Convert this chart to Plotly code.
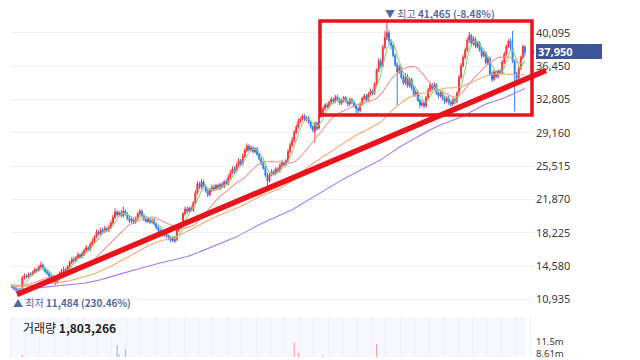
import plotly.graph_objects as go
import pandas as pd

# ---------------- data (prices in hundreds of KRW) ----------------
pre_closes = [118,117,119,120,118,116,115,117,118,116,
              114,113,115,116,117,119,118,116,115,114,
              115,117,118,120,121,119,118,117,116,118,
              119,121,122,120,118,117,116,115,116,117,
              118,117,115,114,113,114,116,117,118,119,
              120,122,123,121,120,119,118,117,118,120,
              121,123,124,122,121,120,119,120,122,123,
              124,125,123,122,121,120,119,118,119,120,
              121,122,124,125,126,124,123,122,121,120,
              121,122,123,124,125,127,128,126,125,124,
              125,126,127,128,127,126,125,124,123,124,
              125,126,127,126,125,124,125,126,125,124]

opens = [124,123,121,119,118, 122,133,135,134,137,
         136,139,142,141,145, 147,143,140,138,135,
         132,129,128,133,138, 140,142,141,145,150,
         153,152,155,158,156, 159,163,166,164,170,
         173,178,183,181,185, 184,187,185,188,193,
         199,205,202,204,201, 206,203,198,195,197,
         194,198,203,206,201, 197,195,197,194,196,
         192,188,185,183,180, 182,179,176,174,177,
         175,185,189,192,203, 208,206,209,207,215,
         226,236,232,238,233, 228,224,229,232,230,
         234,231,235,233,238, 236,243,248,252,250,
         256,261,258,266,272, 277,273,275,271,274,
         268,263,258,253,245, 239,246,249,247,252,
         250,256,259,257,261, 271,278,283,292,298,
         304,307,310,306,308, 303,298,293,302,297,
         310,313,318,322,320, 325,328,326,331,328,
         324,327,330,326,323, 328,325,321,318,316,
         323,329,332,327,334, 337,335,345,360,370,
         365,385,396,401,392, 387,376,366,358,363,
         352,346,353,343,350, 341,333,336,327,322,
         324,321,330,338,344, 340,344,335,332,336,
         329,326,330,325,323, 328,326,335,352,365,
         374,382,393,398,389, 394,386,390,382,376,
         379,368,373,356,350, 358,353,359,357,369,
         378,386,392,384,370, 356,352,362,374,386]

closes = [123,121,119,118,120, 133,135,134,137,136,
          139,142,141,145,147, 143,140,138,135,132,
          129,127,133,138,140, 142,141,145,150,153,
          152,155,158,156,159, 163,166,164,170,173,
          178,183,181,185,184, 187,185,188,193,199,
          205,202,204,201,206, 203,198,195,197,194,
          198,203,206,201,197, 195,197,194,196,192,
          188,185,183,180,182, 179,176,174,177,173,
          185,189,192,203,208, 206,209,207,215,226,
          236,232,238,233,228, 224,229,232,230,234,
          231,235,233,238,236, 243,248,252,250,256,
          261,258,266,272,277, 273,275,271,274,268,
          263,258,253,245,239, 246,249,247,252,250,
          256,259,257,261,271, 278,283,292,298,304,
          307,310,306,308,303, 298,295,302,296,310,
          313,318,322,320,325, 328,326,331,328,324,
          327,330,326,323,328, 325,321,318,316,323,
          329,332,327,334,337, 335,345,360,370,365,
          385,396,401,392,387, 376,366,358,363,352,
          346,353,343,350,341, 333,336,327,322,324,
          321,330,338,344,340, 344,335,332,336,329,
          326,330,325,323,328, 326,335,352,365,374,
          382,393,398,389,394, 386,390,382,376,379,
          368,373,356,350,358, 353,359,357,369,378,
          386,392,384,370,356, 352,362,374,386,379.5]

highs = [126,124,123,121,122, 135,138,137,139,139,
         141,144,144,147,151, 149,145,142,140,137,
         134,131,135,140,143, 145,144,147,152,156,
         156,157,161,160,162, 165,169,168,172,176,
         180,186,185,188,188, 190,189,191,196,202,
         209,207,206,207,211, 208,205,201,199,199,
         200,205,208,208,203, 199,199,199,198,198,
         194,190,187,185,184, 184,181,178,179,179,
         187,191,194,205,211, 211,211,212,217,229,
         239,238,241,240,235, 230,231,235,235,236,
         236,237,238,240,241, 246,251,255,255,259,
         264,263,269,275,280, 279,278,277,276,276,
         270,265,261,255,248, 248,252,251,254,254,
         258,262,261,263,274, 281,287,295,301,307,
         309,312,312,310,310, 305,300,304,304,312,
         315,321,324,324,327, 331,330,333,333,330,
         329,332,332,328,330, 330,327,323,320,325,
         331,334,334,336,340, 339,347,362,373,373,
         388,403,414.65,404,394, 389,378,369,366,365,
         355,357,356,352,352, 343,339,338,329,327,
         326,332,341,347,346, 347,346,337,339,338,
         331,332,332,327,330, 330,337,355,368,377,
         385,396,402,400,397, 396,392,392,385,381,
         381,375,375,359,360, 360,361,361,371,380,
         388,394,395,403,372, 358,364,376,388,387]

lows = [122,120,117,114.84,117, 121,131,132,133,134,
        135,137,139,140,143, 141,138,136,133,130,
        127,125,126,131,136, 138,139,139,143,148,
        150,150,153,154,154, 157,161,162,162,168,
        171,176,179,179,181, 182,183,183,186,191,
        197,200,200,199,199, 201,196,193,193,192,
        192,196,201,199,195, 193,193,192,192,190,
        186,183,181,178,178, 177,174,172,172,171,
        173,183,187,190,201, 203,204,205,205,213,
        224,230,230,231,226, 221,222,227,228,228,
        229,229,231,231,234, 234,241,246,247,248,
        254,255,256,264,270, 271,271,269,269,266,
        261,256,251,243,233, 237,244,245,245,248,
        248,254,255,255,259, 269,276,281,290,296,
        302,305,304,304,301, 296,292,281,294,295,
        308,311,316,318,318, 323,324,324,326,322,
        322,325,324,320,321, 323,319,313,311,314,
        321,327,325,325,332, 333,333,343,358,362,
        363,383,393,389,383, 374,364,322,356,350,
        344,344,341,341,338, 331,331,325,319,320,
        318,319,328,336,338, 338,333,329,330,327,
        323,324,322,320,321, 323,324,333,350,363,
        372,380,390,386,387, 384,384,380,373,374,
        366,366,354,347,348, 351,351,355,355,367,
        376,384,382,368,315, 349,350,360,372,375]

volumes_m = [3.1,2.8,3.5,4.2,3.0, 8.4,5.6,3.2,3.8,2.9,
             3.3,3.6,2.7,3.9,4.1, 3.4,2.9,2.6,3.1,3.5,
             3.8,3.2,4.5,3.9,3.0, 2.8,2.5,3.4,4.2,3.9,
             2.9,3.3,3.7,2.8,3.1, 4.0,4.4,3.2,4.6,4.1,
             5.2,5.8,3.9,4.3,3.6, 3.9,3.2,3.8,5.1,6.2,
             7.1,10.8,8.6,5.4,6.8, 9.9,5.9,4.8,3.9,3.6,
             4.1,5.0,5.6,4.2,3.8, 3.4,3.1,3.3,2.9,3.2,
             3.6,3.9,3.4,3.8,3.0, 3.3,3.5,3.9,2.8,4.1,
             5.6,4.4,4.1,6.1,6.5, 4.6,4.2,3.7,5.3,6.9,
             7.4,5.5,5.9,4.8,4.3, 4.0,3.6,3.5,3.2,3.4,
             3.1,3.6,3.3,3.9,3.0, 4.4,4.8,5.1,3.9,5.2,
             5.5,4.3,5.8,6.3,6.6, 4.9,4.1,4.4,3.8,4.6,
             4.9,5.2,5.6,6.0,6.4, 5.1,4.3,3.6,4.0,3.5,
             3.9,3.8,3.4,4.2,6.1, 6.8,7.3,11.5,7.6,8.9,
             7.2,6.5,5.3,4.8,4.9, 5.5,5.0,6.6,4.6,7.0,
             6.2,8.2,6.7,5.1,5.6, 5.8,4.6,5.2,4.4,4.9,
             4.3,4.5,4.1,4.6,4.2, 4.4,4.9,5.3,5.0,4.6,
             5.1,5.4,4.2,5.7,5.9, 4.8,6.6,11.1,7.8,6.9,
             7.6,7.3,7.7,6.8,5.9, 6.2,6.6,6.0,4.8,5.5,
             5.6,4.9,5.0,4.4,4.7, 5.2,4.1,4.6,4.9,4.2,
             4.4,4.8,5.1,4.9,4.0, 3.8,4.2,3.7,3.6,3.9,
             3.8,3.5,3.9,3.6,3.7, 3.3,4.2,5.6,6.4,6.9,
             7.1,7.4,6.8,5.6,4.9, 4.7,4.4,4.3,4.1,3.7,
             4.2,3.9,5.0,4.6,3.8, 3.6,3.5,3.2,4.1,4.5,
             4.8,5.2,4.3,5.6,6.3, 4.7,3.9,4.4,4.1,1.803266]

price_ticks = [10935, 14580, 18225, 21870, 25515, 29160, 32805, 36450, 40095]
vol_ticks = [8.61e6, 11.5e6]
vol_tick_text = ["8.61m", "11.5m"]
ma_periods = [120, 60, 20, 5]
ma_colors = ["#a97cf2", "#f6a868", "#f29494", "#8ed47c"]
last_price = 37950
high_label = "▼ 최고 <b>41,465 (-8.48%)</b>"
low_label = "▲ 최저 <b>11,484 (230.46%)</b>"
volume_label = "거래량 <b>1,803,266</b>"

SCALE = 100
UP = "#f0383c"
DOWN = "#2f80f0"

n = len(closes)
idx = list(range(n))
O = [v * SCALE for v in opens]
H = [v * SCALE for v in highs]
L = [v * SCALE for v in lows]
C = [v * SCALE for v in closes]
V = [v * 1e6 for v in volumes_m]

full = pd.Series(pre_closes + closes, dtype=float) * SCALE

# layout geometry (pixels)
W, Hh = 640, 360
ML, MR, MT, MB = 10, 105, 8, 0
PW = W - ML - MR
PH = Hh - MT - MB
def px_x(px):
    return (px - ML) / PW
def px_y(py):
    return (Hh - MB - py) / PH

fig = go.Figure()

for p, col in zip(ma_periods, ma_colors):
    ma = full.rolling(p, min_periods=1).mean().iloc[len(pre_closes):]
    fig.add_trace(go.Scatter(x=idx, y=list(ma), mode="lines",
                             line=dict(color=col, width=1.1),
                             hoverinfo="skip", showlegend=False,
                             xaxis="x", yaxis="y"))

fig.add_trace(go.Candlestick(
    x=idx, open=O, high=H, low=L, close=C,
    increasing=dict(line=dict(color=UP, width=1), fillcolor=UP),
    decreasing=dict(line=dict(color=DOWN, width=1), fillcolor=DOWN),
    whiskerwidth=0, showlegend=False, xaxis="x", yaxis="y"))

vcols = ["rgba(240,90,90,0.6)" if c >= o else "rgba(70,140,240,0.6)" for o, c in zip(O, C)]
fig.add_trace(go.Bar(x=idx, y=V, marker=dict(color=vcols, line=dict(width=0)),
                     width=0.5, showlegend=False, xaxis="x2", yaxis="y2"))

# small pointer next to last-price label
fig.add_trace(go.Scatter(x=[252.5], y=[last_price], mode="markers",
                         marker=dict(symbol="triangle-right", size=5, color="#3d5496"),
                         cliponaxis=False, showlegend=False, hoverinfo="skip",
                         xaxis="x", yaxis="y"))

price_dom = [px_y(312), 1.0]
vol_dom = [0.0, px_y(320)]
px_per_unit = (302 - 33) / (price_ticks[-1] - price_ticks[0])
y_top = price_ticks[-1] + (33 - 8) / px_per_unit
y_bot = price_ticks[0] - (312 - 302) / px_per_unit
vpx = (vol_ticks[1] - vol_ticks[0]) / (357 - 345)
v_top = vol_ticks[1] + (345 - 320) * vpx
v_bot = vol_ticks[0] - (360 - 357) * vpx

xr = [-1, (ML + PW - 12) / 2.06]

fig.update_layout(
    width=W, height=Hh,
    margin=dict(l=ML, r=MR, t=MT, b=MB),
    paper_bgcolor="white", plot_bgcolor="white",
    font=dict(family="Noto Sans, Noto Sans CJK KR", size=11, color="#333"),
    xaxis=dict(domain=[0, 1], range=xr, showgrid=False, showticklabels=False,
               zeroline=False, rangeslider=dict(visible=False), anchor="y"),
    xaxis2=dict(domain=[0, 1], range=xr, matches="x", showgrid=True,
                gridcolor="#edf0f7", dtick=7, tick0=-0.5, showticklabels=False,
                zeroline=False, anchor="y2"),
    yaxis=dict(domain=price_dom, range=[y_bot, y_top], side="right",
               tickvals=price_ticks, ticktext=[f"{t:,}" for t in price_ticks],
               showgrid=True, gridcolor="#f0f1f4", zeroline=False, ticks="",
               tickfont=dict(size=11, color="#3a3a3a"), anchor="x"),
    yaxis2=dict(domain=vol_dom, range=[v_bot, v_top], side="right",
                tickvals=vol_ticks, ticktext=vol_tick_text, showgrid=False,
                zeroline=False, ticks="", tickfont=dict(size=9.5, color="#3a3a3a"),
                ticklabeloverflow="allow", anchor="x2"),
    hovermode=False,
)

RED = "#e8131b"
shapes = [
    dict(type="rect", xref="x2", yref="y2 domain", x0=-1, x1=249.5, y0=0, y1=1,
         fillcolor="#f6f8fd", line=dict(width=0), layer="below"),
    dict(type="rect", xref="paper", yref="paper",
         x0=px_x(320), x1=px_x(532), y0=px_y(116), y1=px_y(21),
         line=dict(color=RED, width=3.5), fillcolor="rgba(0,0,0,0)"),
    dict(type="line", xref="paper", yref="paper",
         x0=px_x(17), y0=px_y(297), x1=px_x(546), y1=px_y(71),
         line=dict(color=RED, width=5.5)),
]
fig.update_layout(shapes=shapes)

ann_font = dict(family="Noto Sans CJK KR, Noto Sans", size=10, color="#5668a0")
fig.add_annotation(x=182, xref="x", y=px_y(14), yref="paper", text=high_label,
                   showarrow=False, xanchor="left", yanchor="middle", xshift=-4,
                   font=ann_font)
fig.add_annotation(x=px_x(11), xref="paper", y=px_y(305), yref="paper", text=low_label,
                   showarrow=False, xanchor="left", yanchor="middle", font=ann_font)
fig.add_annotation(x=px_x(21), xref="paper", y=px_y(330), yref="paper", text=volume_label,
                   showarrow=False, xanchor="left", yanchor="middle",
                   font=dict(family="Noto Sans CJK KR, Noto Sans", size=12, color="#222"))
fig.add_annotation(x=px_x(536), xref="paper", y=last_price, yref="y",
                   text=f"<b>{last_price:,}</b>", showarrow=False, xanchor="left",
                   yanchor="middle", align="left", width=62, height=11,
                   bgcolor="#3d5496", bordercolor="#3d5496", borderpad=1, yshift=1,
                   font=dict(family="Noto Sans", size=11, color="white"))

fig.write_html("out.html", config={"displayModeBar": False},
               post_script="document.body.style.margin='0px';")
